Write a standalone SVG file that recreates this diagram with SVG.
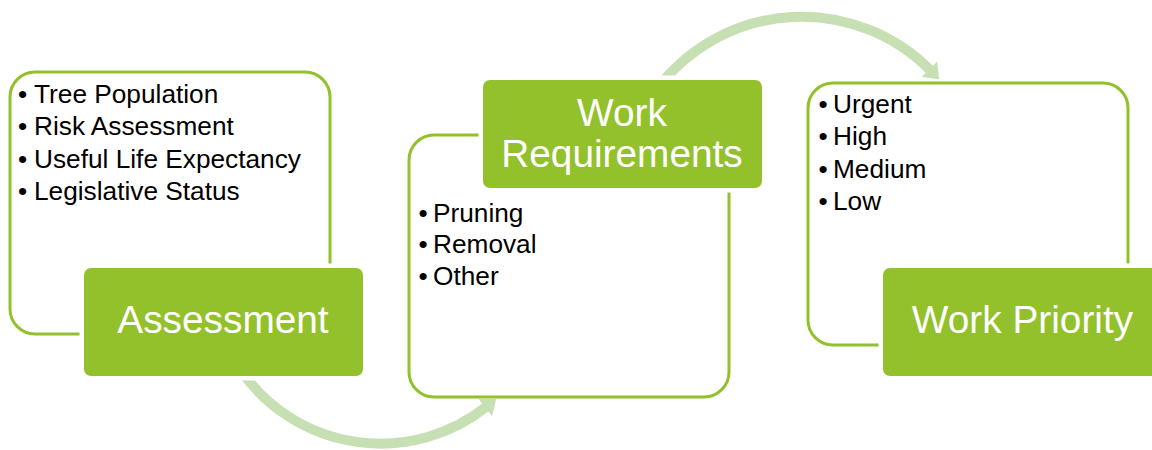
<svg xmlns="http://www.w3.org/2000/svg" width="1152" height="450" viewBox="0 0 1152 450">
  <style>
    .panel { fill: #FFFFFF; stroke: #93C12B; stroke-width: 3; }
    .tab { fill: #93C12B; stroke: #FFFFFF; stroke-width: 9; paint-order: stroke; }
    .flow { fill: none; stroke: #C6E0B3; stroke-width: 10; }
    .item { font-family: "Liberation Sans", Arial, sans-serif; font-size: 25px; fill: #000000; }
    .title { font-family: "Liberation Sans", Arial, sans-serif; font-size: 38.8px; fill: #FFFFFF; text-anchor: middle; }
  </style>
  <defs>
    <marker id="head" viewBox="0 0 14 22" markerWidth="14" markerHeight="22" refX="1" refY="11" orient="auto" markerUnits="userSpaceOnUse">
      <path d="M0 0 L14 11 L0 22 Z" fill="#C6E0B3"/>
    </marker>
  </defs>

  <rect width="1152" height="450" fill="#FFFFFF"/>

  <!-- curved connectors between stages -->
  <g id="connectors">
    <path class="flow" d="M 242 372 A 170 170 0 0 0 486 407" marker-end="url(#head)"/>
    <path class="flow" d="M 660 85 A 181 181 0 0 1 930 70" marker-end="url(#head)"/>
  </g>

  <!-- Stage 1 -->
  <g id="assessment">
    <rect class="panel" x="10" y="72" width="320" height="262" rx="25"/>
    <rect class="tab" x="84" y="268" width="279" height="108" rx="7"/>
    <text class="title" x="223" y="333">Assessment</text>
    <g transform="translate(34,0) scale(1.05,1)">
      <text class="item" x="-15.2" y="103">•</text>
      <text class="item" x="0" y="103">Tree Population</text>
      <text class="item" x="-15.2" y="135.5">•</text>
      <text class="item" x="0" y="135.5">Risk Assessment</text>
      <text class="item" x="-15.2" y="168">•</text>
      <text class="item" x="0" y="168">Useful Life Expectancy</text>
      <text class="item" x="-15.2" y="200.5">•</text>
      <text class="item" x="0" y="200.5">Legislative Status</text>
    </g>
  </g>

  <!-- Stage 2 -->
  <g id="work-requirements">
    <rect class="panel" x="409" y="135" width="320" height="262" rx="25"/>
    <rect class="tab" x="483" y="80" width="279" height="108" rx="7"/>
    <text class="title" x="622" y="126">Work</text>
    <text class="title" x="622" y="166.5">Requirements</text>
    <g transform="translate(433,0) scale(1.05,1)">
      <text class="item" x="-13.8" y="222">•</text>
      <text class="item" x="0" y="222">Pruning</text>
      <text class="item" x="-13.8" y="253.5">•</text>
      <text class="item" x="0" y="253.5">Removal</text>
      <text class="item" x="-13.8" y="285">•</text>
      <text class="item" x="0" y="285">Other</text>
    </g>
  </g>

  <!-- Stage 3 -->
  <g id="work-priority">
    <rect class="panel" x="808" y="83" width="320" height="262" rx="25"/>
    <rect class="tab" x="883" y="268" width="279" height="108" rx="7"/>
    <text class="title" x="1022.5" y="332.5">Work Priority</text>
    <g transform="translate(833,0) scale(1.05,1)">
      <text class="item" x="-13.8" y="113">•</text>
      <text class="item" x="0" y="113">Urgent</text>
      <text class="item" x="-13.8" y="145.5">•</text>
      <text class="item" x="0" y="145.5">High</text>
      <text class="item" x="-13.8" y="178">•</text>
      <text class="item" x="0" y="178">Medium</text>
      <text class="item" x="-13.8" y="210.5">•</text>
      <text class="item" x="0" y="210.5">Low</text>
    </g>
  </g>
</svg>
